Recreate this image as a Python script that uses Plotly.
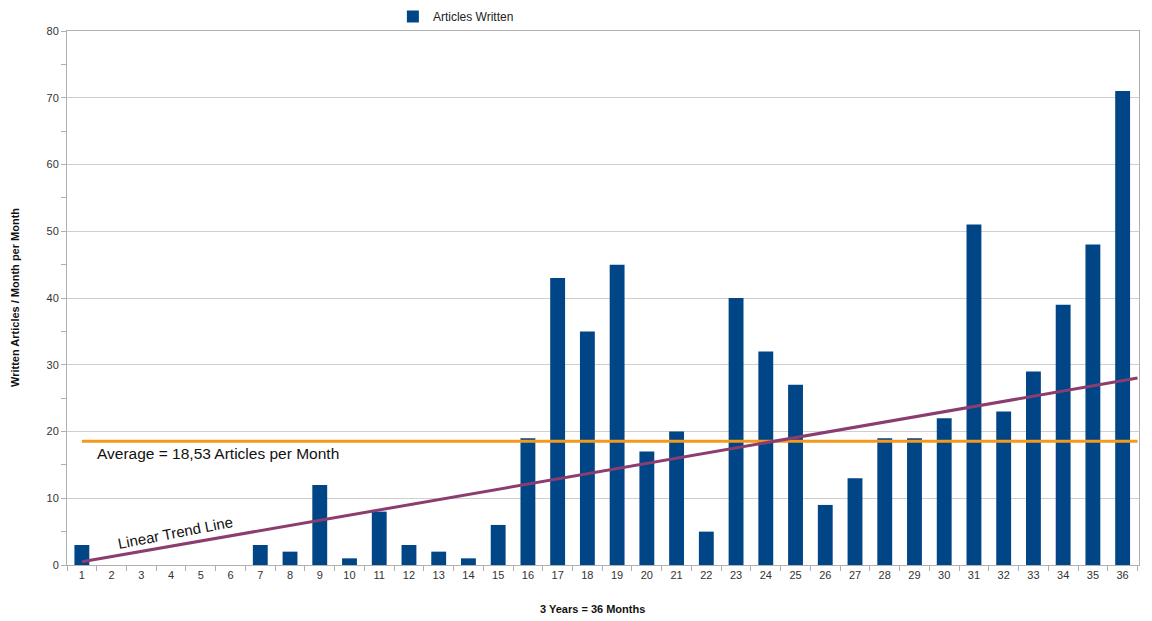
import plotly.graph_objects as go

months = [str(i) for i in range(1, 37)]
articles = [3, 0, 0, 0, 0, 0, 3, 2, 12, 1, 8, 3, 2, 1, 6, 19, 43, 35, 45, 17, 20, 5,
            40, 32, 27, 9, 13, 19, 19, 22, 51, 23, 29, 39, 48, 71]
average_value = sum(articles) / len(articles)  # 18.53
# hand-drawn trend line endpoints (month, value)
trend_months = [1, 36.5]
trend_values = [0.5, 28]
avg_months = [1, 36.5]

W, H = 1144, 613
ML, MR, MT, MB = 59, 13, 23, 56
PW, PH = W - ML - MR, H - MT - MB

fig = go.Figure()
fig.add_trace(go.Bar(x=months, y=articles, name="Articles Written",
                     marker=dict(color="#004586", line=dict(width=0)), width=0.5))

# average line (category index = month - 1)
fig.add_shape(type="line", xref="x", yref="y",
              x0=avg_months[0] - 1, x1=avg_months[1] - 1,
              y0=average_value, y1=average_value,
              line=dict(color="#f39a1e", width=3))
fig.add_shape(type="line", xref="x", yref="y",
              x0=trend_months[0] - 1, x1=trend_months[1] - 1,
              y0=trend_values[0], y1=trend_values[1],
              line=dict(color="#8b3d70", width=3))

fig.add_annotation(x=0.45, y=average_value - 1.8, xref="x", yref="y",
                   text="Average = 18,53 Articles per Month", showarrow=False,
                   xanchor="left", yanchor="middle",
                   font=dict(family="Liberation Sans, Arial", size=15.5, color="#111"))
fig.add_annotation(x=3.15, y=4.8, xref="x", yref="y",
                   text="Linear Trend Line", showarrow=False, textangle=-11,
                   xanchor="center", yanchor="middle",
                   font=dict(family="Liberation Sans, Arial", size=15, color="#111"))

# axis titles
fig.add_annotation(x=(7 - ML) / PW, y=0.5, xref="paper", yref="paper",
                   xanchor="center", yanchor="middle",
                   text="<b>Written Articles / Month per Month</b>", showarrow=False, textangle=-90,
                   font=dict(size=11, color="#111"))
fig.add_annotation(x=0.49, y=-44 / PH, xref="paper", yref="paper",
                   xanchor="center", yanchor="middle",
                   text="<b>3 Years = 36 Months</b>", showarrow=False,
                   font=dict(size=11, color="#111"))

fig.update_layout(
    width=W, height=H,
    margin=dict(l=ML, r=MR, t=MT, b=MB, autoexpand=False),
    plot_bgcolor="white", paper_bgcolor="white",
    font=dict(family="Liberation Sans, Arial", size=11, color="#333"),
    showlegend=True,
    legend=dict(orientation="h", x=0.304, y=1.0, yanchor="bottom", xanchor="left",
                font=dict(size=12, color="#222"), bgcolor="rgba(0,0,0,0)"),
    bargap=0.5,
)

fig.update_xaxes(type="category", tickson="boundaries", ticks="outside", ticklen=5,
                 tickcolor="#b0b0b0", showline=True, linecolor="#b0b0b0", mirror=True,
                 showgrid=False, tickfont=dict(size=11, color="#333"), automargin=False)
fig.update_yaxes(range=[0, 80], dtick=10, ticks="outside", ticklen=5, tickcolor="#b0b0b0",
                 showline=True, linecolor="#b0b0b0", mirror=True,
                 gridcolor="#cfcfcf", gridwidth=1, zeroline=False, automargin=False,
                 minor=dict(dtick=5, ticks="outside", ticklen=5, tickcolor="#b0b0b0", showgrid=False),
                 tickfont=dict(size=11, color="#333"))

fig.write_html("out.html")
